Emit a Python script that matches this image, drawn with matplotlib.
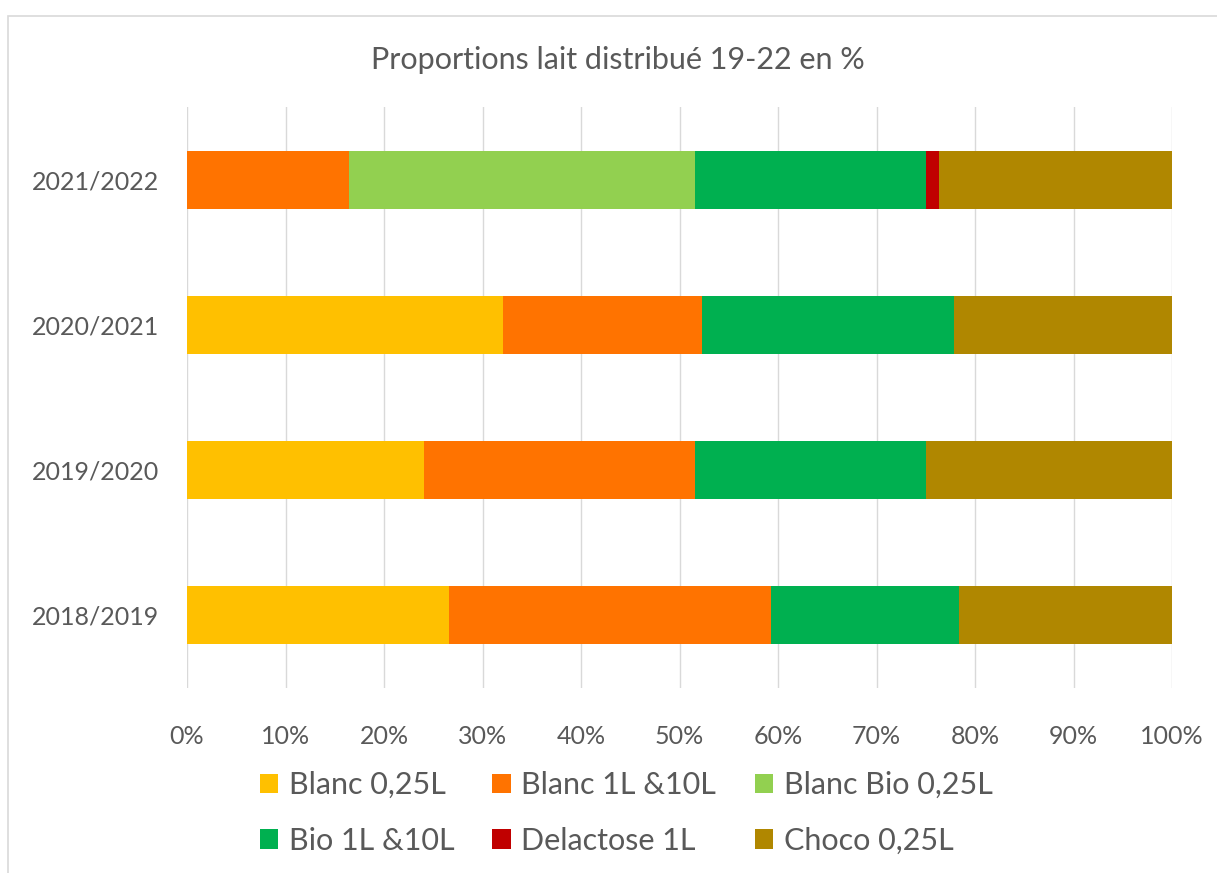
import numpy as np
import matplotlib.pyplot as plt
from matplotlib.patches import Rectangle

# Data (percent of distributed milk per school year)
years = ["2018/2019", "2019/2020", "2020/2021", "2021/2022"]
series = ["Blanc 0,25L", "Blanc 1L &10L", "Blanc Bio 0,25L",
          "Bio 1L &10L", "Delactose 1L", "Choco 0,25L"]
blanc_025 = [26.6, 24.1, 32.1, 0.0]
blanc_1l = [32.7, 27.5, 20.2, 16.4]
blanc_bio_025 = [0.0, 0.0, 0.0, 35.2]
bio_1l = [19.1, 23.4, 25.6, 23.4]
delactose = [0.0, 0.0, 0.0, 1.3]
choco_025 = [21.6, 25.0, 22.1, 23.7]
colors = ["#FFC000", "#FF7300", "#92D050", "#00B050", "#C00000", "#B08700"]

values = [blanc_025, blanc_1l, blanc_bio_025, bio_1l, delactose, choco_025]

plt.rcParams['font.family'] = ['Lato', 'DejaVu Sans']
txt = "#595959"

fig = plt.figure(figsize=(12.17, 8.73), dpi=100)
ax = fig.add_axes([187/1217, 185/873, 985/1217, 581/873])

# chart border (cropped in the reference)
fig.patches.append(Rectangle((8/1217, -0.05), 1.1, (873-16)/873 + 0.05,
                             transform=fig.transFigure, fill=False,
                             edgecolor="#D9D9D9", linewidth=1.2))

y = np.arange(len(years))
left = np.zeros(len(years))
handles = []
for name, vals, c in zip(series, values, colors):
    vals = np.array(vals)
    b = ax.barh(y, vals, left=left, height=0.4, color=c, label=name, zorder=3)
    handles.append(b)
    left += vals

ax.set_xlim(0, 100)
ax.set_ylim(-0.5, 3.5)
ax.set_xticks(np.arange(0, 101, 10))
ax.set_xticklabels([f"{v}%" for v in range(0, 101, 10)])
ax.set_yticks(y)
ax.set_yticklabels(years)
ax.tick_params(length=0, labelsize=18, colors=txt)
ax.tick_params(axis='x', pad=27)
ax.tick_params(axis='y', pad=20)
ax.grid(axis='x', color="#D9D9D9", linewidth=1, zorder=0)
for s in ax.spines.values():
    s.set_visible(False)

fig.text(618/1217, 1 - 60/873, "Proportions lait distribué 19-22 en %",
         ha='center', va='center', fontsize=22, color=txt)

# legend filled row by row, like the original
order = [0, 3, 1, 4, 2, 5]
leg = fig.legend([handles[i] for i in order], [series[i] for i in order],
                 loc='center', bbox_to_anchor=(626/1217, 1 - 813/873), ncol=3,
                 frameon=False, fontsize=22, handlelength=0.6, handleheight=0.6,
                 columnspacing=1.25, handletextpad=0.35, labelspacing=0.9)
for t in leg.get_texts():
    t.set_color(txt)

fig.savefig("out.png", dpi=100)
